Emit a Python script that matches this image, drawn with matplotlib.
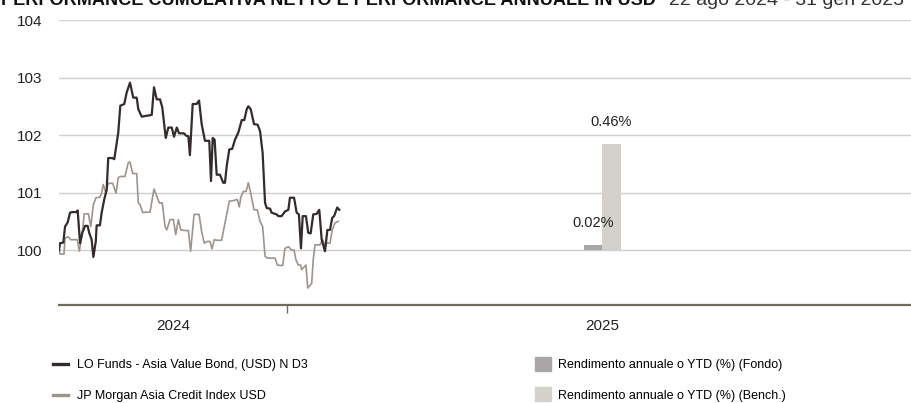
import matplotlib
matplotlib.use("Agg")
import matplotlib.pyplot as plt
from matplotlib.patches import Patch
from matplotlib.lines import Line2D

plt.rcParams['font.family'] = ['Liberation Sans', 'DejaVu Sans']

# giorni dal 22 ago 2024 (il 1 gen 2025 = 132)
fund_day = [0.0, 0.6, 2.5, 3.5, 5.0, 6.4, 7.5, 10.2, 10.8, 12.2,
            13.5, 15.1, 16.6, 17.5, 18.9, 19.9, 21.3, 21.8, 23.7, 24.7,
            26.2, 27.6, 28.5, 30.9, 32.0, 34.3, 35.5, 37.8, 39.2, 41.1,
            43.0, 45.0, 45.9, 47.9, 51.7, 53.7, 55.0, 56.6, 58.5, 59.8,
            61.8, 63.3, 65.3, 66.6, 68.2, 69.5, 72.4, 73.5, 74.9, 75.8,
            77.4, 79.7, 81.1, 82.6, 84.5, 87.0, 88.0, 89.0, 90.1, 91.3,
            93.2, 95.1, 96.1, 97.1, 98.6, 100.3, 101.9, 103.8, 105.8, 107.3,
            108.7, 109.6, 111.0, 112.9, 115.0, 116.4, 117.9, 119.3, 120.3, 122.2,
            123.1, 126.0, 127.0, 128.9, 130.8, 132.8, 133.7, 136.1, 137.6, 138.9,
            140.1, 141.1, 143.0, 144.3, 145.7, 147.2, 149.2, 150.7, 152.1, 154.0,
            155.4, 156.9, 158.2, 159.3, 161.1, 162.3]
fund_val = [100.0, 100.12, 100.13, 100.41, 100.48, 100.65, 100.66, 100.66, 100.69, 100.12,
            100.30, 100.42, 100.42, 100.30, 100.18, 99.88, 100.15, 100.43, 100.43, 100.65,
            100.88, 101.05, 101.60, 101.60, 101.58, 102.04, 102.51, 102.54, 102.74, 102.91,
            102.65, 102.65, 102.45, 102.32, 102.34, 102.35, 102.83, 102.62, 102.62, 102.48,
            101.95, 102.13, 102.13, 101.97, 102.13, 102.03, 102.03, 101.99, 101.98, 101.65,
            102.54, 102.54, 102.60, 102.19, 101.90, 101.90, 101.20, 101.95, 101.92, 101.31,
            101.31, 101.17, 101.17, 101.46, 101.75, 101.76, 101.92, 102.04, 102.26, 102.26,
            102.45, 102.50, 102.45, 102.19, 102.18, 102.07, 101.69, 100.82, 100.73, 100.72,
            100.65, 100.62, 100.59, 100.59, 100.67, 100.70, 100.91, 100.91, 100.65, 100.62,
            100.03, 100.59, 100.59, 100.30, 100.29, 100.62, 100.63, 100.70, 100.18, 99.98,
            100.35, 100.35, 100.56, 100.59, 100.74, 100.70]

bench_day = [0.2, 0.6, 2.9, 3.5, 5.4, 6.8, 10.6, 11.8, 13.7, 14.6,
             17.0, 18.4, 19.9, 21.4, 23.7, 24.7, 25.6, 27.2, 28.5, 31.1,
             33.0, 34.3, 35.7, 38.2, 40.1, 41.1, 42.7, 45.0, 45.9, 46.9,
             48.5, 50.4, 52.7, 55.0, 56.2, 58.1, 59.8, 61.4, 62.4, 64.3,
             66.2, 67.6, 69.1, 70.5, 73.0, 74.9, 76.2, 78.2, 81.1, 82.6,
             84.1, 85.9, 87.4, 88.6, 89.9, 91.3, 94.2, 95.5, 97.1, 98.6,
             100.9, 103.2, 104.4, 105.2, 106.7, 108.3, 109.6, 111.0, 112.9, 114.8,
             116.4, 117.9, 119.3, 120.6, 123.1, 125.1, 126.4, 129.5, 130.8, 132.8,
             134.7, 136.1, 137.2, 138.5, 139.9, 140.5, 143.0, 144.0, 146.3, 147.2,
             148.2, 151.1, 152.7, 154.0, 155.0, 156.9, 158.2, 159.8, 161.7]
bench_val = [100.0, 99.93, 99.93, 100.21, 100.23, 100.18, 100.18, 99.98, 100.35, 100.63,
             100.63, 100.41, 100.79, 100.91, 100.92, 100.99, 101.14, 100.99, 101.16, 101.16,
             100.99, 101.26, 101.28, 101.28, 101.52, 101.53, 101.33, 101.33, 100.82, 100.79,
             100.65, 100.66, 100.66, 101.06, 100.97, 100.82, 100.82, 100.41, 100.35, 100.53,
             100.53, 100.27, 100.53, 100.35, 100.34, 100.34, 99.98, 100.62, 100.62, 100.32,
             100.12, 100.15, 100.15, 100.02, 100.18, 100.17, 100.17, 100.38, 100.62, 100.85,
             100.86, 100.88, 100.75, 100.91, 101.02, 101.02, 101.17, 100.99, 100.70, 100.70,
             100.50, 100.41, 99.89, 99.86, 99.86, 99.86, 99.74, 99.73, 100.03, 100.06,
             100.00, 100.00, 99.83, 99.74, 99.74, 99.66, 99.74, 99.34, 99.42, 99.83,
             100.09, 100.09, 100.18, 100.06, 100.12, 100.12, 100.35, 100.47, 100.50]

# rendimento annuale / YTD 2025 (%)
ytd_labels = ["Fondo", "Bench."]
ytd_values = [0.02, 0.46]

year_labels = ["2024", "2025"]
year_start = [0, 132]
year_end = [132, 497]

fund_name = "LO Funds - Asia Value Bond, (USD) N D3"
bench_name = "JP Morgan Asia Credit Index USD"

c_fund = "#352b2b"
c_bench = "#9e948b"
c_bar_fund = "#aaa6a5"
c_bar_bench = "#d4d0cc"
c_grid = "#cfcfcf"
c_axis = "#6f6c58"

W, H = 911, 403
fig = plt.figure(figsize=(W / 100, H / 100), dpi=100)
ax = fig.add_axes([59 / W, 1 - 305 / H, (W - 59) / W, 285 / H])

ymin, ymax = 99.045, 104.0
ax.plot(bench_day, bench_val, color=c_bench, lw=1.2, zorder=3)
ax.plot(fund_day, fund_val, color=c_fund, lw=1.6, zorder=4)
ax.set_xlim(0, 493.3)
ax.set_ylim(ymin, ymax)
ax.set_yticks([100, 101, 102, 103, 104])
ax.grid(axis='y', color=c_grid, lw=1)
ax.set_axisbelow(True)
ax.tick_params(axis='y', length=0, pad=12, labelsize=11, labelcolor="#222222")
for s in ['top', 'left', 'right']:
    ax.spines[s].set_visible(False)
ax.spines['bottom'].set_color(c_axis)
ax.spines['bottom'].set_linewidth(1.6)
ax.set_xticks([year_start[1]])
ax.set_xticklabels([])
ax.tick_params(axis='x', length=6, width=1, color=c_axis)
for lab, a, b in zip(year_labels, year_start, year_end):
    ax.text((a + b) / 2, -0.072, lab, transform=ax.get_xaxis_transform(),
            ha='center', va='center', fontsize=11, color="#222222")

# barre su un asse secondario (0% allineato a 100)
f = 57.3 / 229
ax2 = ax.twinx()
ax2.set_ylim((ymin - 100) * f, (ymax - 100) * f)
ax2.axis('off')
bar_w = 10.7
bar_x = [309.2, 319.8]
bars = ax2.bar(bar_x, ytd_values, width=bar_w, color=[c_bar_fund, c_bar_bench], zorder=2)
for x, v in zip(bar_x, ytd_values):
    ax2.annotate(f"{v:.2f}%", (x, v), xytext=(0, 11), textcoords='offset points',
                 ha='center', va='bottom', fontsize=10.5, color="#222222")

# titolo (tagliato in alto come nell'originale)
fig.text(1 / W, 1 - 5 / H, "PERFORMANCE CUMULATIVA NETTO E PERFORMANCE ANNUALE IN USD",
         fontsize=13.1, fontweight='bold', va='baseline', ha='left', color="#111111")
fig.text(669 / W, 1 - 5 / H, "22 ago 2024 - 31 gen 2025",
         fontsize=14, va='baseline', ha='left', color="#333333")

h_lines = [Line2D([], [], color=c_fund, lw=2.4), Line2D([], [], color=c_bench, lw=2.4)]
leg1 = fig.legend(h_lines, [fund_name, bench_name], loc='upper left',
                  bbox_to_anchor=(53 / W, 1 - 359 / H), frameon=False, fontsize=9,
                  handlelength=1.2, handletextpad=0.7, labelspacing=1.55,
                  borderpad=0, borderaxespad=0)
h_bars = [Patch(color=c_bar_fund), Patch(color=c_bar_bench)]
leg2 = fig.legend(h_bars, ["Rendimento annuale o YTD (%) (Fondo)",
                           "Rendimento annuale o YTD (%) (Bench.)"],
                  loc='upper left', bbox_to_anchor=(535 / W, 1 - 357 / H),
                  frameon=False, fontsize=9, handlelength=1.3, handleheight=1.35,
                  handletextpad=0.55, labelspacing=1.3, borderpad=0, borderaxespad=0)

fig.savefig("out.png", dpi=100)
